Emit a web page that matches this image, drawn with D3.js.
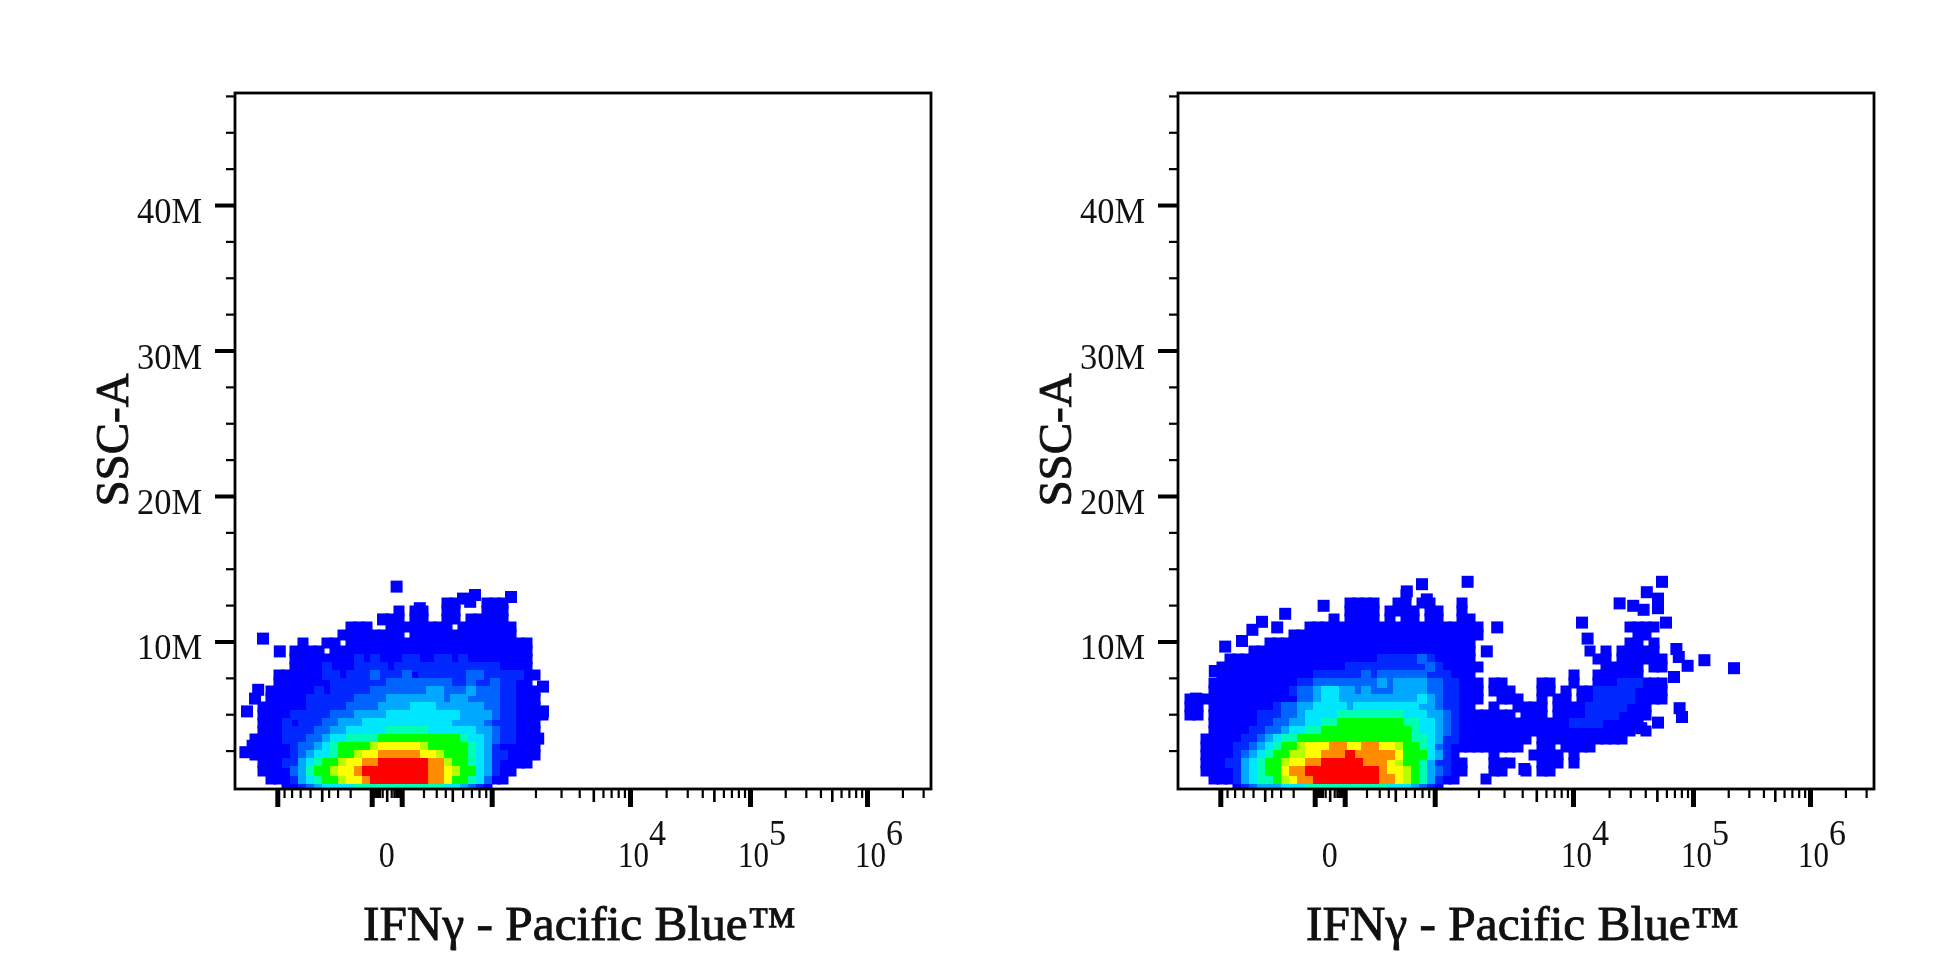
<!DOCTYPE html>
<html>
<head>
<meta charset="utf-8">
<script src="https://cdn.jsdelivr.net/npm/d3@7"></script>
<style>
  html, body { margin: 0; background: #fff; }
  svg { display: block; filter: blur(0.7px); }
  text { font-family: "Liberation Serif", serif; fill: #111; }
</style>
</head>
<body>
<svg id="chart" width="1946" height="973"></svg>
<script>
const width = 1946;
const height = 973;

// density per 87x87 bin, bottom row first. "." = no events, 0-a = density level
const leftFirstBin = 1;
const leftRows = [
  ".....00123444455555555555443210",
  "...0001345667889aaaaaaa9986654200",
  "..0000235667889aaaaaaaa99876643100",
  "..000113456678899aaaaaa9976654310000",
  ".000001234456678899999887666543110000",
  ".000001223456666788888766666543100000",
  ".000011122344555566666666665443211000",
  "..00011112233444445555544444433211000",
  "..00010111223334444444444433332111000",
  "..000011111222333344444444433332110000",
  "..00000011111222233334443333332211000",
  "...0000011111122223333333233222211000",
  "...0000001011111222222233222322211000",
  "....00000001111111222222221121121100",
  "....000000110111211120111111221111100",
  "......000010001111011111111111110000",
  "......000000001010001100110100000000",
  "......0000.0000000000000000000000000",
  ".......0..00.00000000000000000000000",
  "............00000000.0000000000000",
  ".............000..00000000.0000000",
  "..................00.00..00.00000",
  "...................0.00..00...000",
  ".........................00...000"
];
const leftSpots = [
  [20.2, 25.3], [28.5, 23.8], [30.0, 24.25], [29.4, 23.4], [34.5, 24.0], [23.1, 22.6],
  [18.5, 21.2], [3.5, 18.8], [5.6, 17.2], [1.5, 9.7], [2.5, 11.3], [2.9, 12.4],
  [38.5, 12.8], [38.5, 9.7], [37.9, 6.3], [37.3, 4.7], [1.3, 4.6], [2.2, 5.4]
];

const rightFirstBin = 0;
const rightRows = [
  ".......01233344455555555554443210",
  "....0001345567899aaaaaaaa9987653100",
  "...0000134566899aaaaaaaaa98876532100",
  "...000113456678899aaaaa9998766531100",
  "...000012345667788999a9999986664310",
  "...0000112345667888998899887665421000",
  "...0000011234556666666666666655431100",
  "....000001122344556666666666654432100",
  "....000000112233445566666666554432100",
  ".00.000000111223444455555555444332100",
  ".00.000000001223344443444444443321100",
  ".00000000000000223443333333333432110 00".replace(" ", ""),
  "....0000000000122344332322233332211000",
  "....0000000000011222222223233332211000",
  ".....00000000000011111121222222111000",
  ".....000000000000000011111111112100000",
  "......0000000000000000000111112100000",
  ".........0000000000000000000000000000",
  "...........00000000000000000000000000",
  "..............000000000000000000000000",
  "................0000000000000000000000",
  "...................0.0000.0.00.00..00",
  ".....................0000.0000.00..0",
  ".....................0000..00.00...0",
  "............................0"
];
// scattered events right of the main cloud, bins from 37 on
const lobeFirstBin = 37;
const lobeRows = [
  "",
  ".0",
  "..00..0.00",
  "..000...000.0",
  "..0....0000.0",
  "000000..00.0000",
  "0000000.00000000000",
  "00000000000000000000.0",
  "000000000000111100000",
  "00000.000.000011110000",
  "..0..0000.000011111000",
  "...000..0.00.00111110000",
  "..000...00.0.00111110000",
  "..00....00..0..000111000",
  "............0..000000",
  "................00000.00",
  "...............00.000000",
  "..............0.0.00000",
  "...................00.0",
  "....................00",
  "...................0000"
];
const rightSpots = [
  [30.5, 25.6], [36.2, 25.9], [28.6, 24.7], [31.1, 23.7], [18.2, 22.9], [13.4, 21.9],
  [10.5, 20.9], [9.3, 19.9], [12.4, 20.2], [8, 18.5], [5.9, 17.8], [4.6, 14.75],
  [39.9, 20.2], [38.6, 17.2], [2.25, 11.3], [60.5, 25.9], [58.6, 24.6], [55.2, 23.2],
  [56.9, 22.9], [60, 23.8], [60, 22.6], [58.2, 22.4], [50.5, 20.8], [61, 20.8],
  [51.2, 18.8], [65.8, 16.1], [69.5, 15.1], [60, 8.3], [63, 9], [62.7, 10.1],
  [62, 14], [63.7, 15.4], [62.3, 17.5], [62.6, 16.5], [57.9, 7.6], [43.3, 2.5]
];

const levelColors = ["#0000ff", "#0028ff", "#0064ff", "#00a8ff", "#00e6ff", "#00ffb4",
  "#00ff00", "#b4ff00", "#ffff00", "#ff8c00", "#ff0000"];

// x axis: biexponential, knots
const xKnots = [-2.45, -2, -1.699, -1, 0, 1, 1.699, 2, 2.699, 3, 4, 5, 5.544];
const xKnotPixels = [0, 42.3, 86.7, 136.7, 151.7, 166.7, 217.3, 256.7, 358.3, 395, 515, 632, 696];
const xMajor = [-1000, -100, 100, 1000, 10000, 100000, 1000000];
const xMid = [-500, 0, 500, 5000, 50000, 500000];
const xMinor = [-900, -800, -700, -600, -400, -300, -200, -90, -80, -70, -60, -50, -40, -30, -20,
  20, 30, 40, 50, 60, 70, 80, 90, 200, 300, 400, 600, 700, 800, 900,
  2000, 3000, 4000, 6000, 7000, 8000, 9000, 20000, 30000, 40000, 60000, 70000, 80000, 90000,
  200000, 300000, 400000, 600000, 700000, 800000, 900000, 2000000, 3000000];
const xLabels = [{ v: 10000, exp: "4" }, { v: 100000, exp: "5" }, { v: 1000000, exp: "6" }];

const yMajor = [10, 20, 30, 40];
const yMinor = [2.5, 5, 7.5, 12.5, 15, 17.5, 22.5, 25, 27.5, 32.5, 35, 37.5, 42.5, 45, 47.5];

const plotSize = 696;
const plotTop = 93;
const panelLefts = [235, 1178];
const binCount = 87;

const decade = v => v === 0 ? 0 : Math.sign(v) * Math.max(0, Math.log10(Math.abs(v)) - 1);

const xScale = d3.scaleLinear().domain(xKnots).range(xKnotPixels);
const yScale = d3.scaleLinear().domain([-0.14, 47.7]).range([plotSize, 0]);
const xBin = d3.scaleLinear().domain([0, binCount]).range([0, plotSize]);
const yBin = d3.scaleLinear().domain([0, binCount]).range([plotSize, 0]);
const levelColor = d3.scaleOrdinal().domain(d3.range(11)).range(levelColors);

function rowsToCells(rows, firstBin) {
  const cells = [];
  rows.forEach((row, r) => {
    row.split("").forEach((ch, c) => {
      if (ch !== ".") cells.push({ bx: firstBin + c, by: r, level: parseInt(ch, 16) });
    });
  });
  return cells;
}

const svg = d3.select("#chart");

function drawPanel(id, left, cells, spots) {
  const g = svg.append("g").attr("transform", `translate(${left},${plotTop})`);

  g.append("clipPath").attr("id", id).append("rect")
    .attr("width", plotSize).attr("height", plotSize);

  const plot = g.append("g").attr("clip-path", `url(#${id})`);
  const cellSize = d => d.level === 0 ? 11 : 10;
  const spotSize = 12;

  plot.selectAll("rect.cell")
    .data(cells.slice().sort((a, b) => a.level - b.level))
    .join("rect")
    .attr("class", "cell")
    .attr("x", d => xBin(d.bx + 0.5) - cellSize(d) / 2)
    .attr("y", d => yBin(d.by + 0.25) - cellSize(d) / 2)
    .attr("width", cellSize)
    .attr("height", cellSize)
    .attr("fill", d => levelColor(d.level));

  plot.selectAll("rect.spot")
    .data(spots)
    .join("rect")
    .attr("class", "spot")
    .attr("x", d => xBin(d[0]) - spotSize / 2)
    .attr("y", d => yBin(d[1]) - spotSize / 2)
    .attr("width", spotSize)
    .attr("height", spotSize)
    .attr("fill", levelColors[0]);

  // frame
  g.append("rect")
    .attr("width", plotSize).attr("height", plotSize)
    .attr("fill", "none").attr("stroke", "#000").attr("stroke-width", 2.8);

  // x ticks
  const xTicks = (values, size, weight) => {
    const axis = d3.axisBottom(xScale)
      .tickValues(values.map(decade))
      .tickSize(size)
      .tickFormat("");
    const t = g.append("g").attr("transform", `translate(0,${plotSize})`).call(axis);
    t.select(".domain").remove();
    t.selectAll("line").attr("stroke", "#000").attr("stroke-width", weight);
  };
  xTicks(xMinor, 9, 2.2);
  xTicks(xMid, 13, 2.6);
  xTicks(xMajor, 18, 5);

  // y ticks
  const yTicks = (values, size, weight) => {
    const axis = d3.axisLeft(yScale).tickValues(values).tickSize(size).tickFormat("");
    const t = g.append("g").call(axis);
    t.select(".domain").remove();
    t.selectAll("line").attr("stroke", "#000").attr("stroke-width", weight);
  };
  yTicks(yMinor, 9, 2.2);
  yTicks(yMajor, 20, 4);

  g.selectAll("text.ylab")
    .data(yMajor)
    .join("text")
    .attr("class", "ylab")
    .attr("x", -33)
    .attr("y", d => yScale(d) + 18)
    .attr("text-anchor", "end")
    .attr("font-size", 36)
    .attr("textLength", 65)
    .attr("lengthAdjust", "spacingAndGlyphs")
    .text(d => d + "M");

  g.append("text")
    .attr("x", xScale(0))
    .attr("y", 774)
    .attr("text-anchor", "middle")
    .attr("font-size", 36)
    .attr("textLength", 16)
    .attr("lengthAdjust", "spacingAndGlyphs")
    .text("0");

  xLabels.forEach(l => {
    const px = xScale(decade(l.v));
    g.append("text").attr("x", px - 12).attr("y", 774).attr("font-size", 35)
      .attr("textLength", 31).attr("lengthAdjust", "spacingAndGlyphs").text("10");
    g.append("text").attr("x", px + 19).attr("y", 752).attr("font-size", 36)
      .attr("textLength", 17).attr("lengthAdjust", "spacingAndGlyphs").text(l.exp);
  });

  g.append("text")
    .attr("x", 128)
    .attr("y", 847)
    .attr("font-size", 48)
    .attr("textLength", 433)
    .attr("lengthAdjust", "spacingAndGlyphs")
    .attr("stroke", "#111")
    .attr("stroke-width", 0.9)
    .text("IFNγ - Pacific Blue™");

  g.append("text")
    .attr("transform", "translate(-107,347) rotate(-90)")
    .attr("text-anchor", "middle")
    .attr("font-size", 47)
    .attr("stroke", "#111")
    .attr("stroke-width", 0.9)
    .text("SSC-A");
}

drawPanel("clipLeft", panelLefts[0], rowsToCells(leftRows, leftFirstBin), leftSpots);
drawPanel("clipRight", panelLefts[1],
  rowsToCells(rightRows, rightFirstBin).concat(rowsToCells(lobeRows, lobeFirstBin)), rightSpots);
</script>
</body>
</html>
